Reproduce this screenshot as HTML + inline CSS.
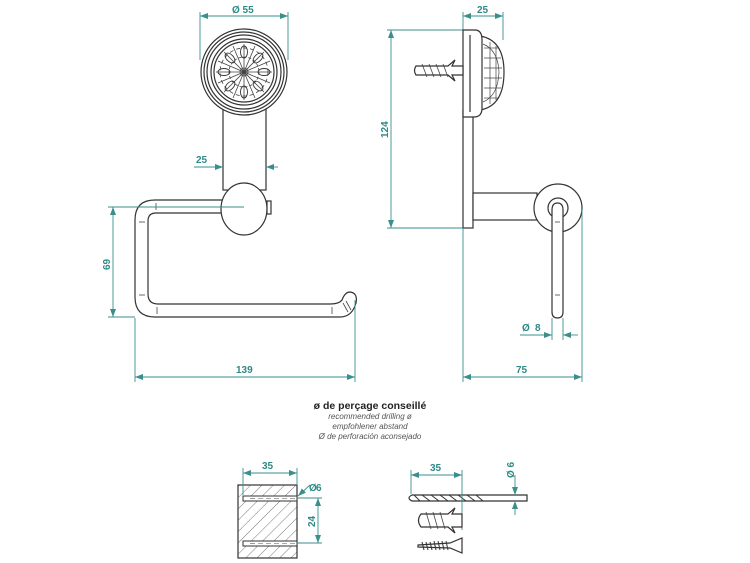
<!DOCTYPE html>
<html><head><meta charset="utf-8"><style>
html,body{margin:0;padding:0;background:#fff;}
svg{display:block;}
.d{stroke:#3a8f8c;stroke-width:0.9;fill:none;}
.t{fill:#2e8a87;font-family:"Liberation Sans",sans-serif;font-size:10px;font-weight:bold;}
.k{stroke:#333;stroke-width:1.2;fill:#fff;}
.kn{stroke:#333;stroke-width:1.2;fill:none;}
</style></head><body>
<svg width="750" height="563" viewBox="0 0 750 563" xmlns="http://www.w3.org/2000/svg">
<defs>
<marker id="a" markerWidth="8" markerHeight="6" refX="8" refY="3" orient="auto-start-reverse" markerUnits="userSpaceOnUse"><path d="M0,0 L8,3 L0,6 z" fill="#3a8f8c"/></marker>
<pattern id="h" width="8" height="8" patternUnits="userSpaceOnUse" patternTransform="rotate(45)"><line x1="0" y1="0" x2="0" y2="8" stroke="#555" stroke-width="0.8"/></pattern>
</defs>

<!-- FRONT VIEW -->
<line class="d" x1="200" y1="12" x2="200" y2="60"/>
<line class="d" x1="288" y1="12" x2="288" y2="60"/>
<line class="d" x1="200" y1="16" x2="288" y2="16" marker-start="url(#a)" marker-end="url(#a)"/>
<text class="t" x="232" y="13" font-weight="normal">Ø 55</text>
<rect class="k" x="223" y="100" width="43" height="90"/>
<circle class="k" cx="244" cy="72" r="43"/>
<circle class="kn" cx="244" cy="72" r="40"/>
<circle class="kn" cx="244" cy="72" r="37"/>
<circle class="kn" cx="244" cy="72" r="33" stroke-width="1.8"/>
<circle class="kn" cx="244" cy="72" r="30" stroke-width="0.7"/>
<g stroke="#444" stroke-width="0.8" fill="none">
<circle cx="244" cy="72" r="4"/>
<circle cx="244" cy="72" r="15" stroke-dasharray="3 2"/>
<circle cx="244" cy="72" r="24" stroke-dasharray="4 3"/>
<path d="M244,44 L244,100 M216,72 L272,72 M224,52 L264,92 M264,52 L224,92 M233,46 L255,98 M255,46 L233,98 M218,61 L270,83 M218,83 L270,61"/>
</g>
<g stroke="#333" stroke-width="0.9" fill="none">
<ellipse cx="244" cy="52" rx="3.5" ry="6"/>
<ellipse cx="244" cy="92" rx="3.5" ry="6"/>
<ellipse cx="224" cy="72" rx="6" ry="3.5"/>
<ellipse cx="264" cy="72" rx="6" ry="3.5"/>
<ellipse cx="230" cy="58" rx="3.5" ry="6" transform="rotate(-45 230 58)"/>
<ellipse cx="258" cy="58" rx="3.5" ry="6" transform="rotate(45 258 58)"/>
<ellipse cx="230" cy="86" rx="3.5" ry="6" transform="rotate(45 230 86)"/>
<ellipse cx="258" cy="86" rx="3.5" ry="6" transform="rotate(-45 258 86)"/>
</g>
<line class="d" x1="194" y1="167" x2="223" y2="167" marker-end="url(#a)"/>
<line class="d" x1="278" y1="167" x2="266" y2="167" marker-end="url(#a)"/>
<text class="t" x="196" y="163">25</text>
<path class="k" d="M222,200 L155,200 Q135,200 135,220 L135,297 Q135,317 155,317 L340,317 Q352,317 356,303 Q358,293 350,292 Q345,292 342,300 Q339,304 330,304 L158,304 Q148,304 148,294 L148,221 Q148,213 156,213 L222,213"/>
<g stroke="#444" stroke-width="0.8">
<line x1="156" y1="203" x2="156" y2="210"/><line x1="139" y1="222" x2="145" y2="222"/>
<line x1="139" y1="295" x2="145" y2="295"/><line x1="157" y1="307" x2="157" y2="314"/>
<line x1="332" y1="307" x2="332" y2="314"/><line x1="343" y1="303" x2="348" y2="312"/><line x1="346" y1="301" x2="351" y2="310"/>
</g>
<ellipse class="k" cx="244" cy="209" rx="23" ry="26"/>
<rect class="k" x="267" y="201" width="4" height="13" stroke-width="0.9"/>
<line class="d" x1="108" y1="207" x2="244" y2="207"/>
<line class="d" x1="108" y1="317" x2="135" y2="317"/>
<line class="d" x1="113" y1="207" x2="113" y2="317" marker-start="url(#a)" marker-end="url(#a)"/>
<text class="t" transform="translate(110,270) rotate(-90)">69</text>
<line class="d" x1="135" y1="318" x2="135" y2="382"/>
<line class="d" x1="355" y1="300" x2="355" y2="382"/>
<line class="d" x1="135" y1="377" x2="355" y2="377" marker-start="url(#a)" marker-end="url(#a)"/>
<text class="t" x="236" y="373">139</text>

<!-- SIDE VIEW -->
<line class="d" x1="463" y1="12" x2="463" y2="30"/>
<line class="d" x1="503" y1="12" x2="503" y2="40"/>
<line class="d" x1="463" y1="16" x2="503" y2="16" marker-start="url(#a)" marker-end="url(#a)"/>
<text class="t" x="477" y="13">25</text>
<line class="d" x1="387" y1="30" x2="463" y2="30"/>
<line class="d" x1="387" y1="228" x2="463" y2="228"/>
<line class="d" x1="391" y1="30" x2="391" y2="228" marker-start="url(#a)" marker-end="url(#a)"/>
<text class="t" transform="translate(388,138) rotate(-90)">124</text>
<path class="k" d="M480,36 Q504,40 504,72 Q504,106 480,110 Z" fill="#f4f4f4"/>
<g stroke="#444" stroke-width="0.7" fill="none">
<path d="M483,44 Q498,50 499,72 Q498,96 483,102"/>
<line x1="484" y1="48" x2="498" y2="48"/><line x1="484" y1="58" x2="501" y2="58"/><line x1="484" y1="68" x2="502" y2="68"/>
<line x1="484" y1="78" x2="502" y2="78"/><line x1="484" y1="88" x2="501" y2="88"/><line x1="484" y1="98" x2="498" y2="98"/>
<line x1="490" y1="42" x2="490" y2="104"/><line x1="496" y1="46" x2="496" y2="100"/>
</g>
<rect class="k" x="463" y="110" width="10" height="118"/>
<path class="k" d="M463,30 L475,30 Q482,30 482,40 L482,108 Q482,117 474,117 L463,117 Z"/>
<line class="kn" x1="470" y1="35" x2="470" y2="112" stroke-width="0.6"/>
<path class="k" d="M416,66 L448,66 L455,60 L452,66 L463,66 L463,75 L452,75 L455,81 L448,75 L416,75 Q413,70.5 416,66 Z" stroke-width="1"/>
<g stroke="#444" stroke-width="0.8"><line x1="422" y1="64" x2="427" y2="77"/><line x1="429" y1="64" x2="434" y2="77"/><line x1="436" y1="64" x2="441" y2="77"/><line x1="443" y1="64" x2="448" y2="77"/></g>
<rect class="k" x="473" y="193" width="64" height="27"/>
<circle class="k" cx="558" cy="208" r="24"/>
<circle class="kn" cx="558" cy="208" r="10"/>
<path class="k" d="M552,210 Q552,203 557.5,203 Q563,203 563,210 L563,312 Q563,318 557.5,318 Q552,318 552,312 Z"/>
<line x1="555" y1="222" x2="560" y2="222" stroke="#444" stroke-width="0.8"/>
<line x1="555" y1="295" x2="560" y2="295" stroke="#444" stroke-width="0.8"/>
<line class="d" x1="552" y1="318" x2="552" y2="340"/>
<line class="d" x1="563" y1="318" x2="563" y2="340"/>
<line class="d" x1="520" y1="335" x2="552" y2="335" marker-end="url(#a)"/>
<line class="d" x1="578" y1="335" x2="563" y2="335" marker-end="url(#a)"/>
<text class="t" x="522" y="331" font-weight="normal">Ø</text><text class="t" x="535" y="331">8</text>
<line class="d" x1="463" y1="228" x2="463" y2="382"/>
<line class="d" x1="582" y1="210" x2="582" y2="382"/>
<line class="d" x1="463" y1="377" x2="582" y2="377" marker-start="url(#a)" marker-end="url(#a)"/>
<text class="t" x="516" y="373">75</text>

<text x="370" y="409" text-anchor="middle" font-family="Liberation Sans,sans-serif" font-size="10.5" font-weight="bold" fill="#222">ø de perçage conseillé</text>
<g font-family="Liberation Sans,sans-serif" font-size="8" font-style="italic" fill="#555" text-anchor="middle">
<text x="370" y="419">recommended drilling ø</text>
<text x="370" y="429">empfohlener abstand</text>
<text x="370" y="439">Ø de perforación aconsejado</text>
</g>

<rect x="238" y="485" width="59" height="73" fill="url(#h)" stroke="#333" stroke-width="1.2"/>
<rect x="243" y="496" width="54" height="5" fill="#fff" stroke="#333" stroke-width="1"/>
<rect x="243" y="541" width="54" height="5" fill="#fff" stroke="#333" stroke-width="1"/>
<line x1="250" y1="498.5" x2="297" y2="498.5" stroke="#555" stroke-width="0.6" stroke-dasharray="5 3"/>
<line x1="250" y1="543.5" x2="297" y2="543.5" stroke="#555" stroke-width="0.6" stroke-dasharray="5 3"/>
<line class="d" x1="243" y1="468" x2="243" y2="495"/>
<line class="d" x1="297" y1="468" x2="297" y2="485"/>
<line class="d" x1="243" y1="473" x2="297" y2="473" marker-start="url(#a)" marker-end="url(#a)"/>
<text class="t" x="262" y="469">35</text>
<line class="d" x1="310" y1="485" x2="298" y2="496" marker-end="url(#a)"/>
<text class="t" x="309" y="491" font-weight="normal">Ø</text><text class="t" x="316" y="491">6</text>
<line class="d" x1="297" y1="498" x2="322" y2="498"/>
<line class="d" x1="297" y1="543" x2="322" y2="543"/>
<line class="d" x1="318" y1="498" x2="318" y2="543" marker-start="url(#a)" marker-end="url(#a)"/>
<text class="t" transform="translate(315,527) rotate(-90)">24</text>

<path class="k" d="M412,495 L527,495 L527,501 L412,501 Q406,498 412,495 Z" stroke-width="1"/>
<g stroke="#333" stroke-width="1"><line x1="414" y1="495" x2="420" y2="501"/><line x1="422" y1="495" x2="430" y2="501"/><line x1="431" y1="495" x2="439" y2="501"/><line x1="440" y1="495" x2="448" y2="501"/><line x1="449" y1="495" x2="457" y2="501"/><line x1="458" y1="495" x2="466" y2="501"/><line x1="467" y1="495" x2="475" y2="501"/><line x1="476" y1="495" x2="483" y2="501"/></g>
<line class="d" x1="411" y1="470" x2="411" y2="494"/>
<line class="d" x1="462" y1="470" x2="462" y2="530"/>
<line class="d" x1="411" y1="475" x2="462" y2="475" marker-start="url(#a)" marker-end="url(#a)"/>
<text class="t" x="430" y="471">35</text>
<line class="d" x1="515" y1="475" x2="515" y2="495" marker-end="url(#a)"/>
<line class="d" x1="515" y1="515" x2="515" y2="501" marker-end="url(#a)"/>
<text class="t" transform="translate(514,478) rotate(-90)" font-weight="normal">Ø 6</text>
<path class="k" d="M421,514 L448,514 L455,508 L452,514 L462,514 L462,527 L452,527 L455,533 L448,527 L421,527 Q416,520.5 421,514 Z" stroke-width="1"/>
<g stroke="#444" stroke-width="0.8"><line x1="426" y1="512" x2="431" y2="529"/><line x1="433" y1="512" x2="438" y2="529"/><line x1="440" y1="512" x2="445" y2="529"/></g>
<path class="k" d="M418,545 L450,543 L462,538 L462,553 L450,548 L418,547 Z" stroke-width="1"/>
<g stroke="#333" stroke-width="1"><line x1="422" y1="542" x2="424" y2="550"/><line x1="426" y1="542" x2="428" y2="550"/><line x1="430" y1="542" x2="432" y2="550"/><line x1="434" y1="541" x2="436" y2="550"/><line x1="438" y1="541" x2="440" y2="550"/><line x1="442" y1="541" x2="444" y2="550"/><line x1="446" y1="541" x2="448" y2="550"/></g>
</svg>
</body></html>
